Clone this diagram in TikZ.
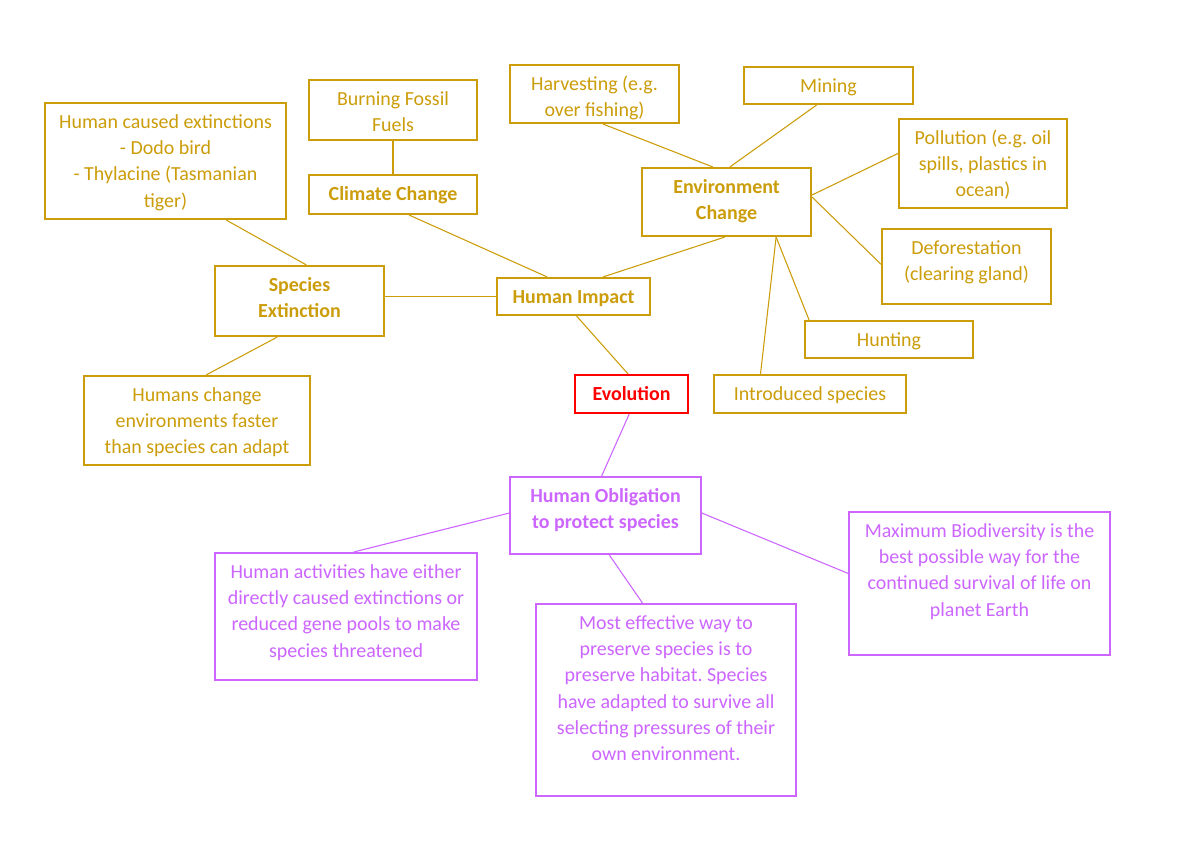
\documentclass[tikz,border=0pt]{standalone}
\usepackage{fontspec}
\setmainfont{Carlito}
\usetikzlibrary{calc}
\frenchspacing
\definecolor{gold}{RGB}{204,157,10}
\definecolor{purp}{RGB}{204,102,255}
\definecolor{redc}{RGB}{255,0,0}
\newcommand\cbox[7]{%
  \node[#2, minimum width={(#5-#3)*0.70167pt}, minimum height={(#6-#4)*0.70167pt}]
    (#1) at ({(#3+#5)/2},{(#4+#6)/2}) {};
  \node[#2 text, inner sep=0pt, anchor=base] (#1t) at ({(#3+#5)/2},{#4+25})
    {\parbox[t]{330pt}{\centering\frenchspacing #7}};
}
\tikzset{
  gbox/.style={draw=gold, line width=1.5pt, inner sep=0pt, fill=none},
  gbox text/.style={text=gold, font=\fontsize{14}{18.5}\selectfont},
  gbbox/.style={gbox},
  gbbox text/.style={text=gold, font=\fontsize{14}{18.5}\selectfont\bfseries},
  rbox/.style={draw=redc, line width=1.5pt, inner sep=0pt},
  rbox text/.style={text=redc, font=\fontsize{14}{18.5}\selectfont\bfseries},
  pbox/.style={draw=purp, line width=1.5pt, inner sep=0pt},
  pbox text/.style={text=purp, font=\fontsize{14}{18.5}\selectfont},
  pbbox/.style={pbox},
  pbbox text/.style={text=purp, font=\fontsize{14}{18.5}\selectfont\bfseries},
  gline/.style={draw=gold, line width=0.75pt},
  pline/.style={draw=purp, line width=0.75pt},
}
\begin{document}
\begin{tikzpicture}[x=0.70167pt, y=-0.70167pt]
\useasboundingbox[fill=white] (0,0) rectangle (1200,849);

\cbox{hce}{gbox}{45}{103}{286}{219}{Human caused extinctions\\- Dodo bird\\- Thylacine (Tasmanian\\tiger)}
\cbox{bff}{gbox}{309}{80}{477}{140}{Burning Fossil\\Fuels}
\cbox{cc}{gbbox}{309}{175}{477}{214}{Climate Change}
\cbox{se}{gbbox}{215}{266}{384}{336}{Species\\Extinction}
\cbox{hcg}{gbox}{84}{376}{310}{465}{Humans change\\environments faster\\than species can adapt}
\cbox{hi}{gbbox}{497}{278}{650}{315}{Human Impact}
\cbox{harv}{gbox}{510}{65}{679}{123}{Harvesting (e.g.\\over fishing)}
\cbox{min}{gbox}{744}{67}{913}{104}{Mining}
\cbox{pol}{gbox}{899}{119}{1067}{208}{Pollution (e.g. oil\\spills, plastics in\\ocean)}
\cbox{env}{gbbox}{642}{168}{811}{236}{Environment\\Change}
\cbox{def}{gbox}{882}{229}{1051}{304}{Deforestation\\(clearing gland)}
\cbox{hunt}{gbox}{805}{321}{973}{358}{Hunting}
\cbox{intro}{gbox}{714}{375}{906}{413}{Introduced species}
\cbox{evo}{rbox}{575}{375}{688}{413}{Evolution}
\cbox{ho}{pbbox}{510}{477}{701}{554}{Human Obligation\\to protect species}
\cbox{ha}{pbox}{215}{553}{477}{680}{Human activities have either\\directly caused extinctions or\\reduced gene pools to make\\species threatened}
\cbox{me}{pbox}{536}{604}{796}{796}{Most effective way to\\preserve species is to\\preserve habitat. Species\\have adapted to survive all\\selecting pressures of their\\own environment.}
\cbox{max}{pbox}{849}{512}{1110}{655}{Maximum Biodiversity is the\\best possible way for the\\continued survival of life on\\planet Earth}

% gold connectors
\draw[gline] ($(hce.south west)!0.75!(hce.south east)$) -- ($(se.north west)!0.54!(se.north east)$);
\draw[gline] (bff.south) -- (cc.north);
\draw[gline] ($(cc.south west)!0.595!(cc.south east)$) -- ($(hi.north west)!0.33!(hi.north east)$);
\draw[gline] (hi.west) -- (hi.west -| se.east);
\draw[gline] ($(se.south west)!0.37!(se.south east)$) -- ($(hcg.north west)!0.54!(hcg.north east)$);
\draw[gline] ($(hi.south west)!0.52!(hi.south east)$) -- ($(evo.north west)!0.47!(evo.north east)$);
\draw[gline] ($(env.south west)!0.49!(env.south east)$) -- ($(hi.north west)!0.69!(hi.north east)$);
\draw[gline] ($(harv.south west)!0.55!(harv.south east)$) -- ($(env.north west)!0.42!(env.north east)$);
\draw[gline] ($(min.south west)!0.43!(min.south east)$) -- ($(env.north west)!0.52!(env.north east)$);
\draw[gline] ($(env.north east)!0.4!(env.south east)$) -- ($(pol.north west)!0.39!(pol.south west)$);
\draw[gline] ($(env.north east)!0.43!(env.south east)$) -- ($(def.north west)!0.47!(def.south west)$);
\coordinate (envb) at ($(env.south west)!0.79!(env.south east)$);
\draw[gline] (envb) -- ($(hunt.north west)!0.03!(hunt.north east)$);
\draw[gline] (envb) -- ($(intro.north west)!0.245!(intro.north east)$);

% purple connectors
\draw[pline] ($(evo.south west)!0.48!(evo.south east)$) -- ($(ho.north west)!0.48!(ho.north east)$);
\draw[pline] ($(ho.north west)!0.47!(ho.south west)$) -- ($(ha.north west)!0.53!(ha.north east)$);
\draw[pline] ($(ho.south west)!0.52!(ho.south east)$) -- ($(me.north west)!0.41!(me.north east)$);
\draw[pline] ($(ho.north east)!0.47!(ho.south east)$) -- ($(max.north west)!0.43!(max.south west)$);
\end{tikzpicture}
\end{document}
